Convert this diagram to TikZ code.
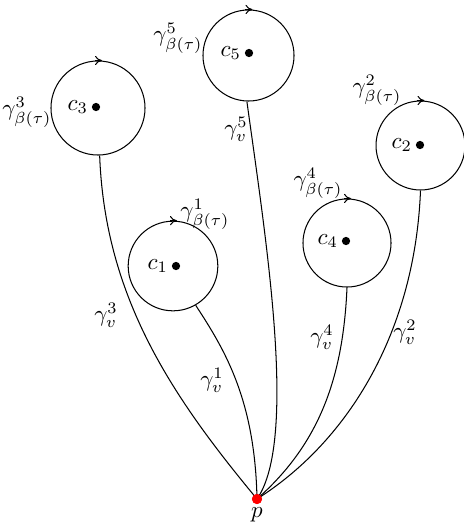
\documentclass[tikz,border=0pt]{standalone}
\usetikzlibrary{arrows.meta}
\begin{document}
\begin{tikzpicture}[x=0.435pt,y=-0.435pt,
  ring/.style={draw,circle,inner sep=0pt,line width=0.45pt},
  bdot/.style={fill=black,circle,minimum size=3.6pt,inner sep=0pt},
  pdot/.style={fill=red,circle,minimum size=4.4pt,inner sep=0pt},
  curve/.style={line width=0.45pt},
  orient/.style={line width=0.45pt,-{To[length=3pt,width=4pt]}},
  lab/.style={inner sep=0pt},
  clab/.style={label={[label distance=-2pt]left:#1}}]
\useasboundingbox (0,0) rectangle (464,522);

% circles
\node[ring,minimum size=40.9pt] (C3) at (98,108) {};
\node[ring,minimum size=39.6pt] (C5) at (248.5,55.5) {};
\node[ring,minimum size=38.7pt] (C2) at (420.5,145.5) {};
\node[ring,minimum size=39pt] (C1) at (173,266) {};
\node[ring,minimum size=38.3pt] (C4) at (347,243) {};

% orientation arrows
\foreach \c in {C3,C5,C2,C1,C4}
  \draw[orient] ([xshift=-1.5pt]\c.north) -- ([xshift=1.7pt]\c.north);

% centres
\node[bdot,clab={$c_3$}] (d3) at (96,107) {};
\node[bdot,clab={$c_5$}] (d5) at (249,53) {};
\node[bdot,clab={$c_2$}] (d2) at (420,145) {};
\node[bdot,clab={$c_1$}] (d1) at (176,266) {};
\node[bdot,clab={$c_4$}] (d4) at (346,241) {};

% base point
\node[pdot,label={[label distance=-2.2pt]below:$p$}] (p) at (257,499) {};

% loop labels
\node[lab] (g3) at (27,112) {$\gamma^3_{\beta(\tau)}$};
\node[lab] (g5) at (178,38) {$\gamma^5_{\beta(\tau)}$};
\node[lab] (g2) at (377,90) {$\gamma^2_{\beta(\tau)}$};
\node[lab] (g1) at (205,214) {$\gamma^1_{\beta(\tau)}$};
\node[lab] (g4) at (318,183) {$\gamma^4_{\beta(\tau)}$};

% path labels
\node[lab] (v3) at (106,315) {$\gamma^3_v$};
\node[lab] (v1) at (212,380) {$\gamma^1_v$};
\node[lab] (v5) at (236,129) {$\gamma^5_v$};
\node[lab] (v4) at (322,337) {$\gamma^4_v$};
\node[lab] (v2) at (405,332) {$\gamma^2_v$};

% connecting paths
\draw[curve] (C3.-88) .. controls (105,300) and (175,400) .. (p.center);
\draw[curve] (C1.-60) .. controls (225,350) and (255,400) .. (p.center);
\draw[curve] (C5.-92) .. controls (266,240) and (298,440) .. (p.center);
\draw[curve] (C4.south) .. controls (343,380) and (318,445) .. (p.center);
\draw[curve] (C2.south) .. controls (415,330) and (350,440) .. (p.center);

\node[pdot] (p2) at (p) {};
\end{tikzpicture}
\end{document}
